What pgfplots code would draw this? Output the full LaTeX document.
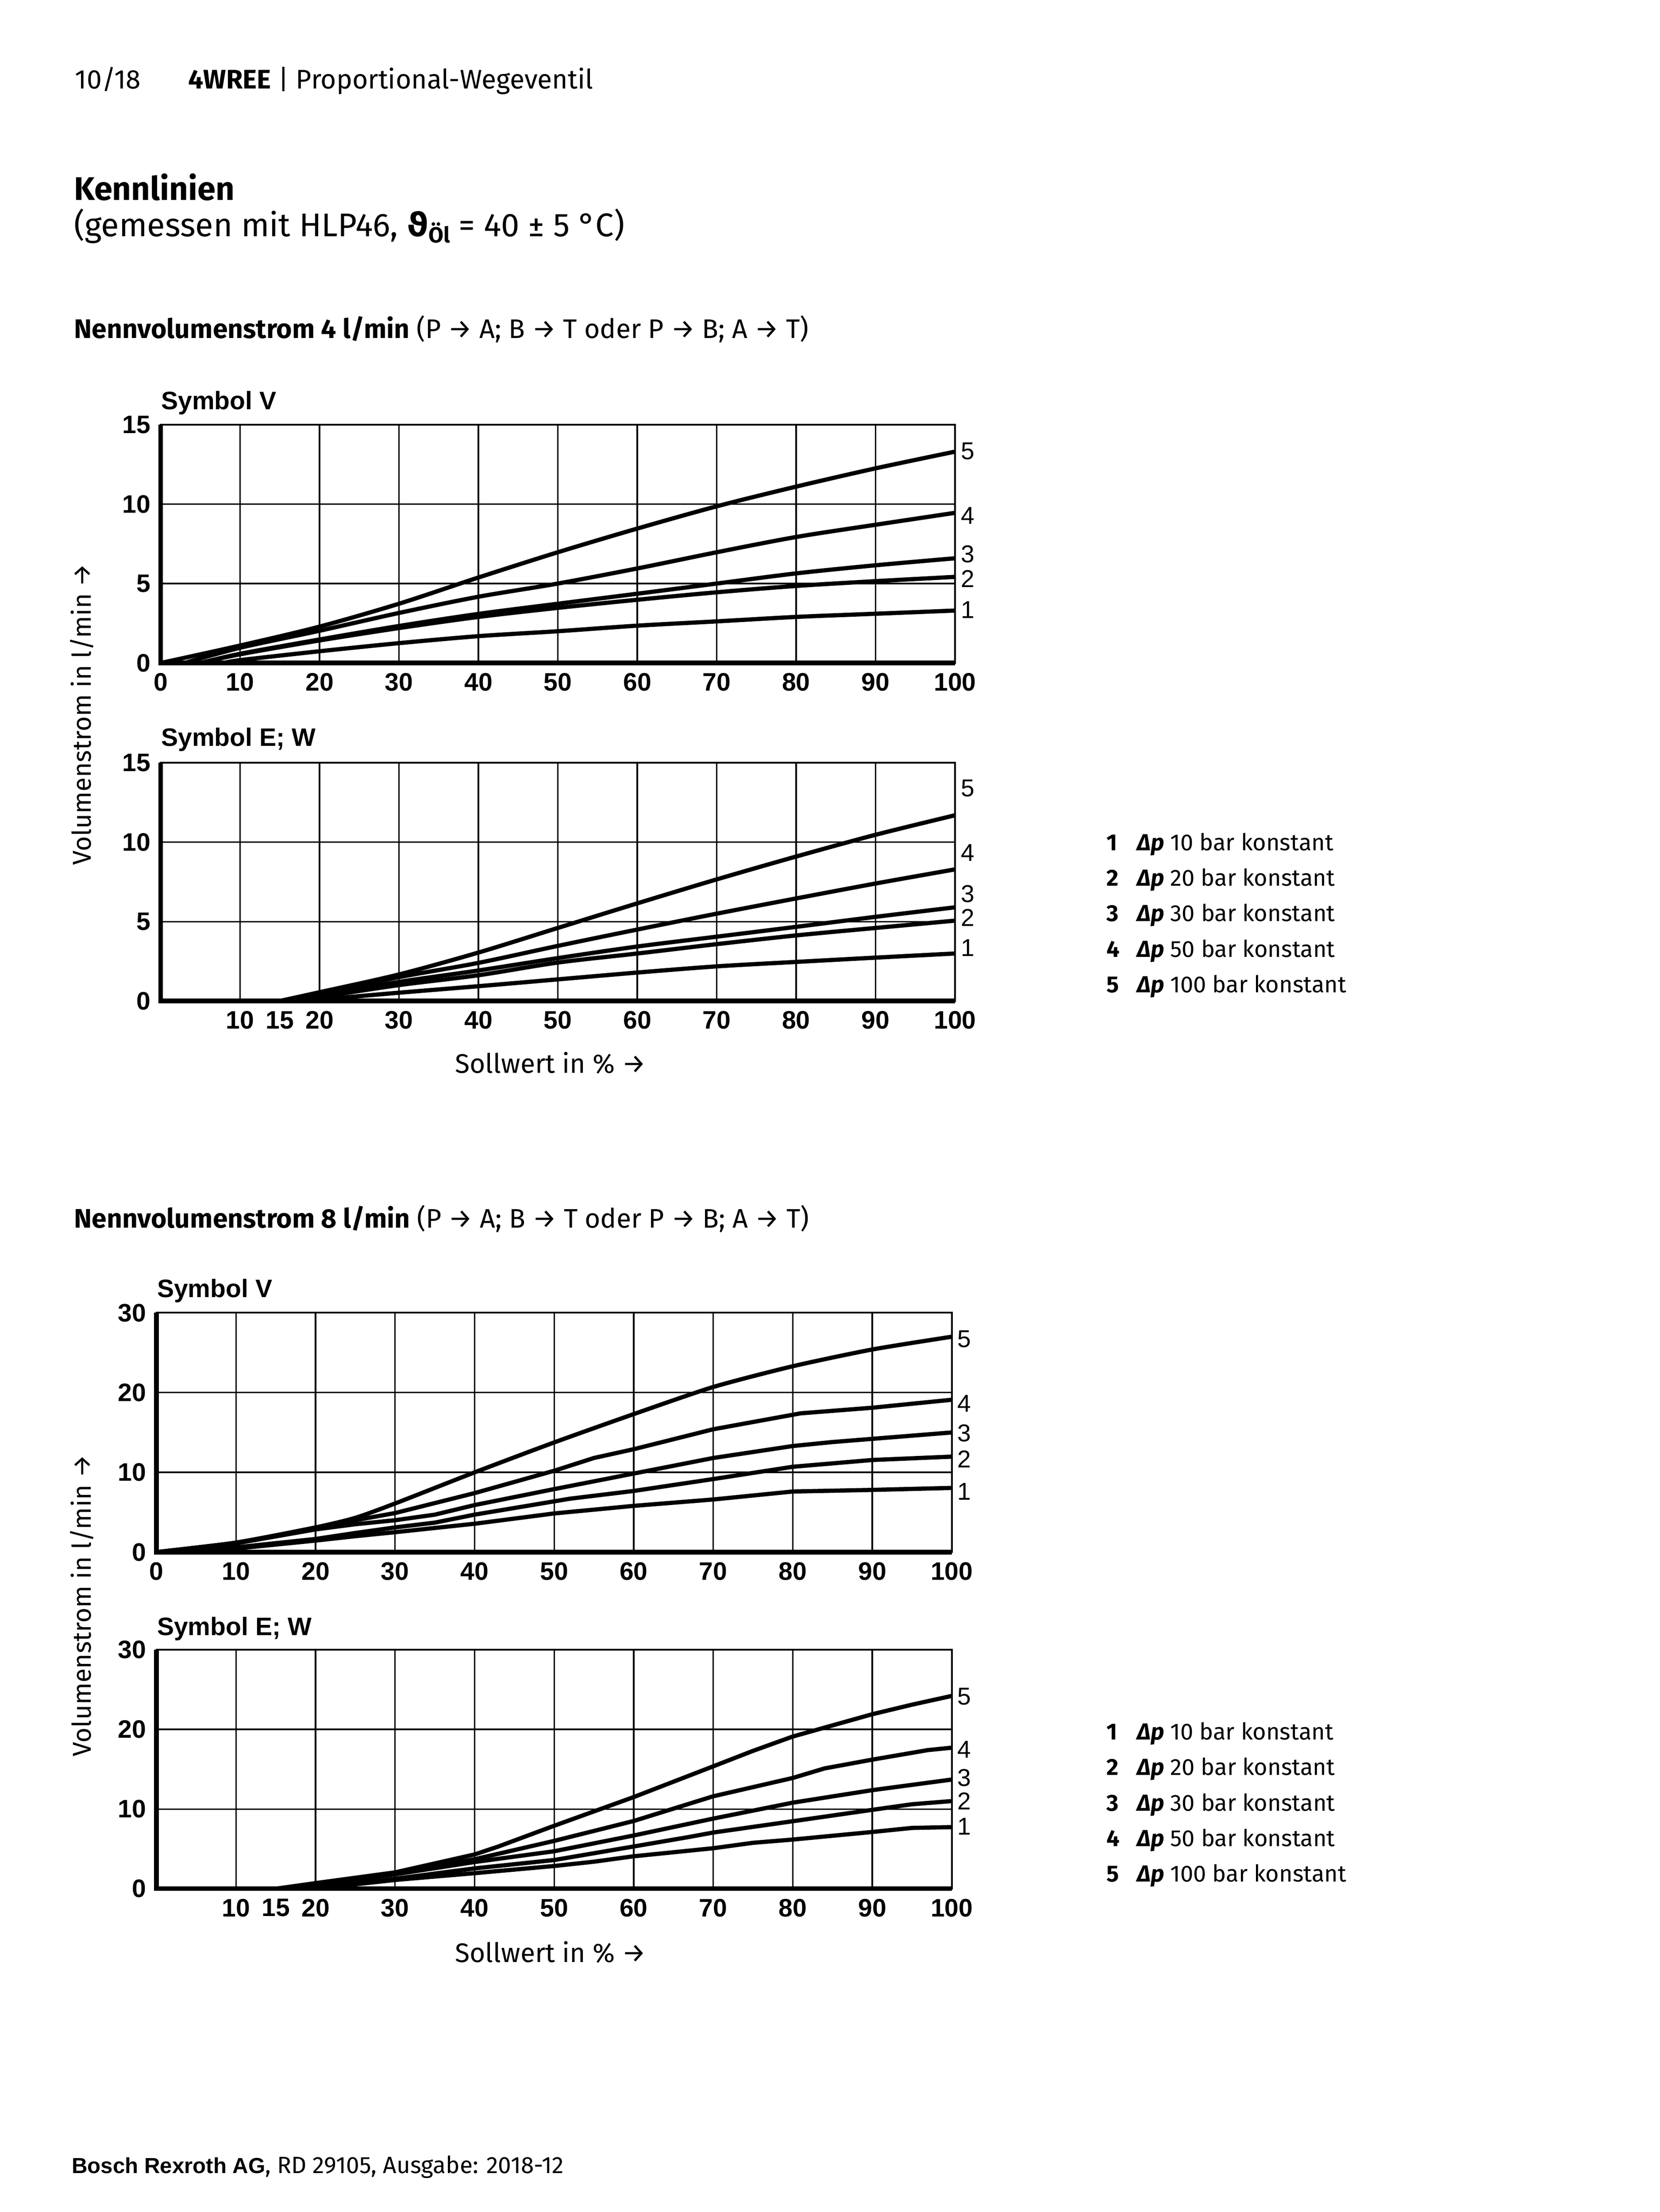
\documentclass[border=0pt]{standalone}
\usepackage{pgfplots}
\pgfplotsset{compat=1.18}
\usepackage{fontspec}
\setmainfont{Fira Sans}
\newfontfamily\arial{Liberation Sans}
\newfontfamily\dejavu{DejaVu Sans}

\newcommand{\txt}{\fontsize{9.25}{11}\selectfont}
\newcommand{\grosstxt}{\fontsize{11.3}{13}\selectfont}
\newcommand{\tfont}{\arial\bfseries\fontsize{8.7}{10}\selectfont}
\newcommand{\lfont}{\arial\fontsize{8.4}{9.5}\selectfont}
\newcommand{\gfont}{\fontsize{8}{9.5}\selectfont}

\pgfplotsset{
  kl/.style={
    scale only axis, anchor=south west,
    xmin=0, xmax=100, ymin=0, clip=false,
    axis line style={line width=0.6pt},
    grid=major, grid style={line width=0.5pt, black},
    major tick length=0pt,
    tick label style={font=\tfont},
    /pgf/number format/assume math mode=true,
    cycle list={{black, mark=none}},
    every axis plot/.append style={line width=1.45pt, black, line join=round},
  },
}
\tikzset{lab/.style={anchor=west, inner sep=0pt, xshift=1.8pt, font=\lfont}}
\newcommand{\thickaxes}{\draw[line width=1.6pt] (rel axis cs:0,1) -- (rel axis cs:0,0) -- (rel axis cs:1,0);}
\newcommand{\legende}[1]{%
  \foreach \n/\v [count=\i from 0] in {1/10,2/20,3/30,4/50,5/100} {
    \node[anchor=base west, inner sep=0pt, font=\gfont] at (380.8pt, {#1-\i*12.24pt}) {\textbf{\n}};
    \node[anchor=base west, inner sep=0pt, font=\gfont] at (391.3pt, {#1-\i*12.24pt}) {\textbf{\textit{Δp}} \v{} bar konstant};
  }}

\begin{document}
\begin{tikzpicture}
\path[use as bounding box, fill=white] (0,0) rectangle (571.44pt,-761.88pt);

% Kopf
\node[anchor=base west, inner sep=0pt, font=\txt] at (25.7pt,-30.6pt) {10/18};
\node[anchor=base west, inner sep=0pt, font=\txt] at (64.7pt,-30.6pt) {\textbf{4WREE} | Proportional-Wegeventil};
\node[anchor=base west, inner sep=0pt, font=\bfseries\grosstxt] at (25.3pt,-69pt) {Kennlinien};
\node[anchor=base west, inner sep=0pt, font=\grosstxt] at (25.3pt,-81.5pt) {(gemessen mit HLP46, {\dejavu\bfseries ϑ}\raisebox{-0.35ex}{\bfseries\fontsize{7.5}{8}\selectfont Öl} = 40 ± 5 °C)};
\node[anchor=base west, inner sep=0pt, font=\txt] at (25.3pt,-116.5pt) {\textbf{Nennvolumenstrom 4 l/min} (P → A; B → T oder P → B; A → T)};

% 4 l/min, Symbol V
\node[anchor=base west, inner sep=0pt, font=\tfont] at (55.3pt,-141pt) {Symbol V};
\begin{axis}[kl, at={(55.32pt,-228.36pt)}, width=273.5pt, height=82.1pt,
  ymax=15, xtick={0,10,...,100}, ytick={0,5,10,15}]
\addplot[smooth] coordinates {(0,0)(10,1.1)(20,2.29)(30,3.73)(40,5.38)(50,6.97)(60,8.46)(70,9.86)(80,11.1)(90,12.25)(100,13.3)};
\addplot[smooth] coordinates {(3,0)(10,0.96)(20,2.03)(30,3.15)(40,4.17)(50,5.0)(60,5.95)(70,6.97)(80,7.93)(90,8.7)(100,9.45)};
\addplot[smooth] coordinates {(5,0)(10,0.58)(20,1.48)(30,2.33)(40,3.09)(50,3.73)(60,4.36)(70,5.0)(80,5.64)(90,6.15)(100,6.59)};
\addplot[smooth] coordinates {(5,0)(10,0.55)(20,1.42)(30,2.2)(40,2.9)(50,3.47)(60,3.98)(70,4.45)(80,4.85)(90,5.15)(100,5.42)};
\addplot[smooth] coordinates {(8,0)(10,0.18)(20,0.74)(30,1.25)(40,1.69)(50,2.0)(60,2.35)(70,2.62)(80,2.9)(90,3.1)(100,3.3)};
\thickaxes
\node[lab] at (axis cs:100,13.33) {5};
\node[lab] at (axis cs:100,9.26) {4};
\node[lab] at (axis cs:100,6.85) {3};
\node[lab] at (axis cs:100,5.3) {2};
\node[lab] at (axis cs:100,3.35) {1};
\end{axis}

% 4 l/min, Symbol E; W
\node[anchor=base west, inner sep=0pt, font=\tfont] at (55.3pt,-257pt) {Symbol E; W};
\begin{axis}[kl, at={(55.32pt,-344.76pt)}, width=273.5pt, height=82pt,
  ymax=15, xtick={10,20,...,100}, ytick={0,5,10,15},
  extra x ticks={15}, extra x tick style={grid=none}]
\addplot[smooth] coordinates {(15,0)(20,0.55)(30,1.67)(40,3.05)(50,4.6)(60,6.15)(70,7.66)(80,9.1)(90,10.47)(100,11.7)};
\addplot[smooth] coordinates {(15,0)(20,0.45)(30,1.5)(40,2.4)(50,3.47)(60,4.5)(70,5.5)(80,6.46)(90,7.4)(100,8.29)};
\addplot[smooth] coordinates {(16,0)(20,0.33)(30,1.2)(40,1.92)(50,2.7)(60,3.43)(70,4.05)(80,4.67)(90,5.3)(100,5.9)};
\addplot[smooth] coordinates {(16,0)(20,0.25)(30,1.0)(40,1.62)(50,2.42)(60,2.99)(70,3.58)(80,4.13)(90,4.6)(100,5.06)};
\addplot[smooth] coordinates {(18,0)(30,0.52)(40,0.93)(50,1.36)(60,1.79)(70,2.18)(80,2.46)(90,2.73)(100,2.99)};
\thickaxes
\node[lab] at (axis cs:100,13.4) {5};
\node[lab] at (axis cs:100,9.35) {4};
\node[lab] at (axis cs:100,6.75) {3};
\node[lab] at (axis cs:100,5.25) {2};
\node[lab] at (axis cs:100,3.35) {1};
\end{axis}

\node[font=\txt] at (189.6pt,-366.1pt) {Sollwert in \% →};
\node[rotate=90, font=\fontsize{8.9}{10}\selectfont] at (28.2pt,-246pt) {Volumenstrom in l/min →};
\legende{-292.9pt}

% 8 l/min
\node[anchor=base west, inner sep=0pt, font=\txt] at (25.3pt,-422.9pt) {\textbf{Nennvolumenstrom 8 l/min} (P → A; B → T oder P → B; A → T)};

\node[anchor=base west, inner sep=0pt, font=\tfont] at (53.9pt,-446.9pt) {Symbol V};
\begin{axis}[kl, at={(53.88pt,-534.6pt)}, width=273.84pt, height=82.44pt,
  ymax=30, xtick={0,10,...,100}, ytick={0,10,20,30}]
\addplot[smooth, tension=0.4] coordinates {(0,0)(10,1.2)(20,3.1)(25,4.3)(30,6.1)(40,10.0)(50,13.75)(60,17.3)(70,20.7)(80,23.3)(90,25.4)(100,27.0)};
\addplot coordinates {(0,0)(10,1.15)(20,3.0)(25,4.0)(30,4.9)(40,7.4)(50,10.2)(55,11.8)(60,12.9)(70,15.4)(81,17.4)(90,18.1)(100,19.1)};
\addplot coordinates {(0,0)(10,1.1)(20,2.85)(25,3.5)(30,4.0)(35,4.7)(40,5.9)(50,7.9)(60,9.85)(70,11.8)(80,13.3)(85,13.8)(90,14.2)(100,15.0)};
\addplot coordinates {(4,0)(10,0.6)(20,1.65)(25,2.4)(30,3.1)(35,3.7)(40,4.7)(52,6.7)(60,7.67)(70,9.16)(80,10.7)(90,11.55)(100,11.97)};
\addplot coordinates {(5,0)(10,0.45)(20,1.45)(25,2.0)(30,2.5)(40,3.56)(50,4.85)(60,5.8)(70,6.6)(80,7.6)(90,7.8)(100,8.05)};
\thickaxes
\node[lab] at (axis cs:100,26.7) {5};
\node[lab] at (axis cs:100,18.6) {4};
\node[lab] at (axis cs:100,14.9) {3};
\node[lab] at (axis cs:100,11.65) {2};
\node[lab] at (axis cs:100,7.6) {1};
\end{axis}

\node[anchor=base west, inner sep=0pt, font=\tfont] at (53.9pt,-563.2pt) {Symbol E; W};
\begin{axis}[kl, at={(53.88pt,-650.52pt)}, width=273.84pt, height=82.32pt,
  ymax=30, xtick={10,20,...,100}, ytick={0,10,20,30},
  extra x ticks={15}, extra x tick style={grid=none}]
\addplot coordinates {(15,0)(20,0.7)(30,2.05)(40,4.3)(43,5.3)(50,7.9)(60,11.5)(70,15.36)(75,17.3)(80,19.1)(85,20.5)(90,21.9)(95,23.1)(100,24.2)};
\addplot coordinates {(15.5,0)(20,0.6)(30,1.95)(40,3.7)(50,6.0)(60,8.5)(70,11.6)(80,13.9)(84,15.1)(90,16.2)(97,17.4)(100,17.7)};
\addplot coordinates {(16,0)(20,0.5)(30,1.8)(40,3.35)(50,4.7)(60,6.68)(70,8.8)(80,10.8)(90,12.37)(100,13.7)};
\addplot coordinates {(19,0)(30,1.25)(40,2.55)(50,3.6)(60,5.3)(67,6.5)(70,7.05)(80,8.47)(90,9.9)(95,10.6)(100,11.0)};
\addplot coordinates {(20,0)(30,1.1)(40,1.95)(50,2.85)(55,3.39)(60,4.07)(70,5.08)(75,5.76)(80,6.17)(90,7.12)(95,7.63)(100,7.73)};
\thickaxes
\node[lab] at (axis cs:100,24.1) {5};
\node[lab] at (axis cs:100,17.5) {4};
\node[lab] at (axis cs:100,13.9) {3};
\node[lab] at (axis cs:100,11.0) {2};
\node[lab] at (axis cs:100,7.8) {1};
\end{axis}

\node[font=\txt] at (189.6pt,-672.4pt) {Sollwert in \% →};
\node[rotate=90, font=\fontsize{8.9}{10}\selectfont] at (28.2pt,-553pt) {Volumenstrom in l/min →};
\legende{-599.2pt}

% Fuss
\node[anchor=base west, inner sep=0pt] at (24.5pt,-748.5pt) {{\arial\bfseries\fontsize{7.5}{9}\selectfont Bosch Rexroth AG}{\fontsize{8.1}{9}\selectfont, RD 29105, Ausgabe: 2018-12}};
\end{tikzpicture}
\end{document}
